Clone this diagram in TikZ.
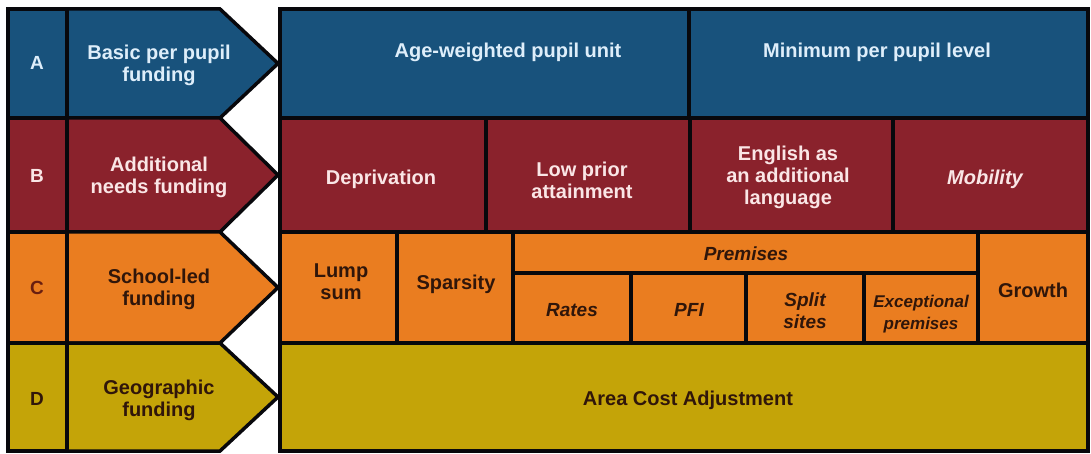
\documentclass[tikz,border=0pt]{standalone}
\usepackage{fontspec}
\setmainfont{Liberation Sans}
\usepackage{tikz}

\definecolor{fundblue}{RGB}{24,82,124}
\definecolor{fundred}{RGB}{138,34,44}
\definecolor{fundorange}{RGB}{234,125,32}
\definecolor{fundolive}{RGB}{196,164,8}
\definecolor{bluetext}{RGB}{222,238,250}
\definecolor{redtext}{RGB}{250,230,230}
\definecolor{darktext}{RGB}{48,22,10}
\definecolor{lettertext}{RGB}{105,30,16}
\definecolor{edge}{RGB}{8,8,12}

\begin{document}
\begin{tikzpicture}[
    x=1pt, y=-1pt,
    cell/.style={draw=edge, line width=3.5pt, line join=miter},
    cellA/.style={cell, fill=fundblue},
    cellB/.style={cell, fill=fundred},
    cellC/.style={cell, fill=fundorange},
    cellD/.style={cell, fill=fundolive},
    txt/.style={font=\fontsize{20}{22}\selectfont\bfseries, align=center, inner sep=0pt},
    txtA/.style={txt, text=bluetext},
    txtB/.style={txt, text=redtext},
    txtC/.style={txt, text=darktext},
    letter/.style={font=\fontsize{19}{21}\selectfont\bfseries, inner sep=0pt}
]
\useasboundingbox (0,0) rectangle (1091,454);

% Letter column
\filldraw[cellA] (8,9) rectangle (67,118);
\filldraw[cellB] (8,118) rectangle (67,232);
\filldraw[cellC] (8,232) rectangle (67,343);
\filldraw[cellD] (8,343) rectangle (67,451);
\node[letter, text=bluetext] (letA) at (37,63) {A};
\node[letter, text=redtext] (letB) at (37,176) {B};
\node[letter, text=lettertext] (letC) at (37,288) {C};
\node[letter, text=darktext] (letD) at (37,399) {D};

% Pointed funding blocks
\filldraw[cellA] (67,9) -- (220,9) -- (278,63.5) -- (220,118) -- (67,118) -- cycle;
\filldraw[cellB] (67,118) -- (220,118) -- (278,175) -- (220,232) -- (67,232) -- cycle;
\filldraw[cellC] (67,232) -- (220,232) -- (278,287.5) -- (220,343) -- (67,343) -- cycle;
\filldraw[cellD] (67,343) -- (220,343) -- (278,397) -- (220,451) -- (67,451) -- cycle;
\node[txtA] (basic) at (159,65) {Basic per pupil\\funding};
\node[txtB] (additional) at (159,177) {Additional\\needs funding};
\node[txtC] (schoolled) at (159,289) {School-led\\funding};
\node[txtC] (geographic) at (159,400) {Geographic\\funding};

% Row A
\filldraw[cellA] (280,9) rectangle (689,118);
\filldraw[cellA] (689,9) rectangle (1088,118);
\node[txtA] (ageweighted) at (508,52) {Age-weighted pupil unit};
\node[txtA] (minimum) at (877,52) {Minimum per pupil level};

% Row B
\filldraw[cellB] (280,118) rectangle (486,232);
\filldraw[cellB] (486,118) rectangle (690,232);
\filldraw[cellB] (690,118) rectangle (893,232);
\filldraw[cellB] (893,118) rectangle (1088,232);
\node[txtB] (deprivation) at (381,179) {Deprivation};
\node[txtB] (lowprior) at (582,180) {Low prior\\attainment};
\node[txtB] (english) at (788,177) {English as\\an additional\\language};
\node[txtB, font=\fontsize{20}{22}\selectfont\bfseries\itshape] (mobility) at (985,179) {Mobility};

% Row C
\filldraw[cellC] (280,232) rectangle (397,343);
\filldraw[cellC] (397,232) rectangle (513,343);
\filldraw[cellC] (513,232) rectangle (978,273);
\filldraw[cellC] (513,273) rectangle (631,343);
\filldraw[cellC] (631,273) rectangle (746,343);
\filldraw[cellC] (746,273) rectangle (864,343);
\filldraw[cellC] (864,273) rectangle (978,343);
\filldraw[cellC] (978,232) rectangle (1088,343);
\node[txtC] (lumpsum) at (341,282) {Lump\\sum};
\node[txtC] (sparsity) at (456,284) {Sparsity};
\node[txtC, font=\fontsize{19}{21}\selectfont\bfseries\itshape] (premises) at (746,254) {Premises};
\node[txtC, font=\fontsize{19}{21}\selectfont\bfseries\itshape] (rates) at (572,310) {Rates};
\node[txtC, font=\fontsize{19}{21}\selectfont\bfseries\itshape] (pfi) at (689,310) {PFI};
\node[txtC, font=\fontsize{19}{22}\selectfont\bfseries\itshape] (splitsites) at (805,311) {Split\\sites};
\node[txtC, font=\fontsize{17}{22}\selectfont\bfseries\itshape] (exceptional) at (921,314) {Exceptional\\premises};
\node[txtC] (growth) at (1033,290) {Growth};

% Row D
\filldraw[cellD] (280,343) rectangle (1088,451);
\node[txtC] (areacost) at (688,400) {Area Cost Adjustment};

\end{tikzpicture}
\end{document}
